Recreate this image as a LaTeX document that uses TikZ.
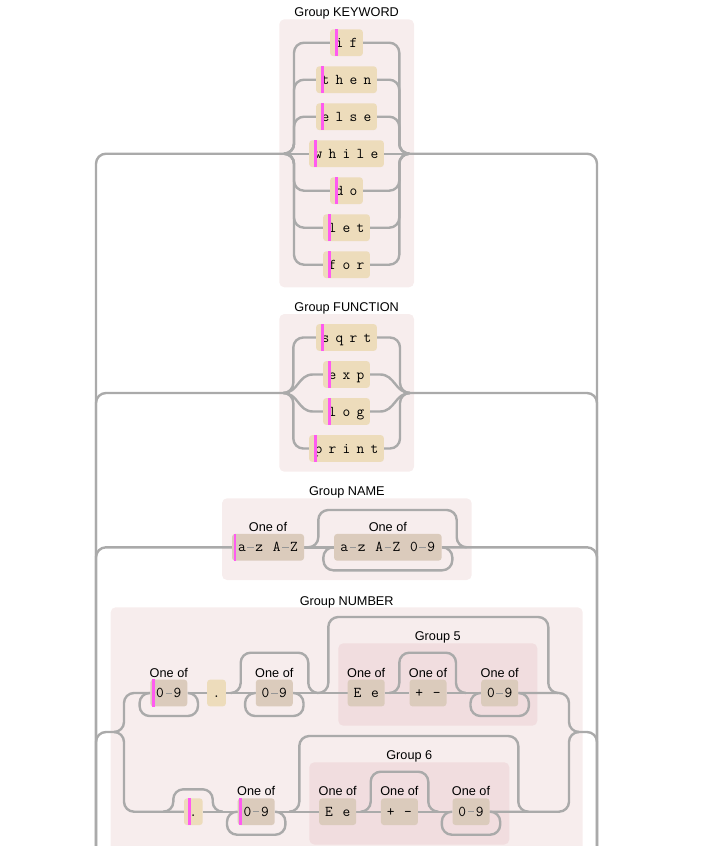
\documentclass[tikz,border=0pt]{standalone}
\usepackage{fontspec}
\setmainfont{Liberation Sans}
\usetikzlibrary{calc}
\definecolor{railc}{RGB}{170,170,170}
\definecolor{grpbg}{RGB}{247,237,237}
\definecolor{grpbgb}{RGB}{241,221,223}
\definecolor{litc}{RGB}{237,220,187}
\definecolor{chsc}{RGB}{219,203,188}
\definecolor{barc}{RGB}{255,90,240}
\definecolor{dashc}{RGB}{150,150,150}
\pgfdeclarelayer{grplayer}
\pgfdeclarelayer{raillayer}
\pgfsetlayers{grplayer,raillayer,main}
\def\kwword#1{\kwwordi#1\relax}
\def\kwwordi#1{\ifx#1\relax\else\makebox[14pt]{#1}\expandafter\kwwordi\fi}
\newcommand\chcell[1]{\makebox[8.7pt]{#1}}
\newcommand\chsp{\hspace*{8.7pt}}
\newcommand\rngdash{\makebox[8.7pt]{\textcolor{dashc}{\rule[3.8pt]{6.5pt}{1.2pt}}}}
\newcommand\zeronine{\chcell{0}\rngdash\chcell{9}}
\newcommand\pbar[3]{\fill[barc] ([xshift=#2]#1.north west) rectangle ([xshift=#3]#1.south west);}
\newcommand\reploop[1]{\draw[rail] (#1.west) -- ++(-10.5,0) |- ([xshift=10.5pt,yshift=-23pt]#1.east) -- ([xshift=10.5pt]#1.east) -- (#1.east);}
\newcommand\skipover[4]{\draw[rail] (#1,#3) -- ({#1+10},#3) -- ({#1+10},#4) -- ({#2-10},#4) -- ({#2-10},#3) -- (#2,#3);}
\begin{document}
\begin{tikzpicture}[x=1pt,y=-1pt,
  rail/.style={draw=railc,line width=2.4pt,rounded corners=10pt},
  itembox/.style={rounded corners=3pt,minimum height=26.7pt,inner sep=0pt,text height=9pt,text depth=0pt,font=\fontsize{15}{17}\selectfont\ttfamily},
  litbox/.style={itembox,fill=litc},
  chbox/.style={itembox,fill=chsc},
  lbl/.style={inner sep=0pt,text height=9.1pt,text depth=0pt,font=\fontsize{12.7}{15}\selectfont},
  grpbox/.style={fill=grpbg,rounded corners=5pt},
  grpboxb/.style={fill=grpbgb,rounded corners=5pt}]
\useasboundingbox (0,0) rectangle (701,846);

% group backgrounds
\begin{pgfonlayer}{grplayer}
\fill[grpbox] (279.3,19.3) rectangle (414,287.3);
\fill[grpbox] (279.3,314) rectangle (414,471.7);
\fill[grpbox] (222,498.3) rectangle (471.7,580);
\fill[grpbox] (110.7,607.3) rectangle (582.7,856);
\fill[grpboxb] (338.3,643.3) rectangle (537.3,725.7);
\fill[grpboxb] (309.3,762.3) rectangle (509.3,844.5);
\end{pgfonlayer}

% group labels
\node[lbl] (lkw) at (346.65,12) {Group KEYWORD};
\node[lbl] (lfn) at (346.65,307) {Group FUNCTION};
\node[lbl] (lnm) at (346.85,491.3) {Group NAME};
\node[lbl] (lnu) at (346.7,600.5) {Group NUMBER};
\node[lbl] (lg5) at (437.8,636) {Group 5};
\node[lbl] (lg6) at (409.3,755) {Group 6};

% junction coordinates
\coordinate (oL) at (96,846);
\coordinate (oR) at (597,846);
\coordinate (kin) at (284,153.7);
\coordinate (kinr) at (294,153.7);
\coordinate (koutr) at (399.3,153.7);
\coordinate (kout) at (409.3,153.7);
\coordinate (fin) at (283.3,393);
\coordinate (finr) at (293.3,393);
\coordinate (foutr) at (400,393);
\coordinate (fout) at (410,393);
\coordinate (nin) at (114,732);
\coordinate (ninr) at (124,732);
\coordinate (noutr) at (569,732);
\coordinate (nout) at (579,732);

% KEYWORD items
\node[litbox,minimum width=32.7pt] (kif) at (346.5,42.7) {\kwword{if}};
\node[litbox,minimum width=60.7pt] (kthen) at (346.5,79.7) {\kwword{then}};
\node[litbox,minimum width=60.7pt] (kelse) at (346.5,116.7) {\kwword{else}};
\node[litbox,minimum width=74.7pt] (kwhile) at (346.5,153.7) {\kwword{while}};
\node[litbox,minimum width=32.7pt] (kdo) at (346.5,190.7) {\kwword{do}};
\node[litbox,minimum width=46.7pt] (klet) at (346.5,227.7) {\kwword{let}};
\node[litbox,minimum width=46.7pt] (kfor) at (346.5,264.7) {\kwword{for}};

% FUNCTION items
\node[litbox,minimum width=60.7pt] (fsqrt) at (346.5,337.5) {\kwword{sqrt}};
\node[litbox,minimum width=46.7pt] (fexp) at (346.5,374.5) {\kwword{exp}};
\node[litbox,minimum width=46.7pt] (flog) at (346.5,411.5) {\kwword{log}};
\node[litbox,minimum width=74.7pt] (fprint) at (346.5,448.5) {\kwword{print}};

% NAME items
\node[chbox,minimum width=72pt] (na) at (268,547.3) {\chcell{a}\rngdash\chcell{z}\chsp\chcell{A}\rngdash\chcell{Z}};
\node[chbox,minimum width=107.5pt] (nb) at (387.85,547.3) {\chcell{a}\rngdash\chcell{z}\chsp\chcell{A}\rngdash\chcell{Z}\chsp\zeronine};

% NUMBER row 1
\node[chbox,minimum width=37pt] (r1a) at (168.8,693) {\zeronine};
\node[litbox,minimum width=18.7pt] (r1dot) at (216.5,693) {\kwword{.}};
\node[chbox,minimum width=37pt] (r1b) at (274.3,693) {\zeronine};
\node[chbox,minimum width=37pt] (g5e) at (366.2,693) {\chcell{E}\chsp\chcell{e}};
\node[chbox,minimum width=37pt] (g5p) at (428,693) {\chcell{+}\chsp\chcell{-}};
\node[chbox,minimum width=37pt] (g5n) at (499.7,693) {\zeronine};

% NUMBER row 2
\node[litbox,minimum width=18.7pt] (r2dot) at (193.35,811.7) {\kwword{.}};
\node[chbox,minimum width=37pt] (r2a) at (256.2,811.7) {\zeronine};
\node[chbox,minimum width=37pt] (g6e) at (337.7,811.7) {\chcell{E}\chsp\chcell{e}};
\node[chbox,minimum width=37pt] (g6p) at (399.4,811.7) {\chcell{+}\chsp\chcell{-}};
\node[chbox,minimum width=37pt] (g6n) at (471,811.7) {\zeronine};

% "One of" labels
\foreach \c in {na,nb,r1a,r1b,g5e,g5p,g5n,r2a,g6e,g6p,g6n}{
  \node[lbl] (one-\c) at ([yshift=20.5pt]\c.center) {One of};
}

% pink markers
\foreach \k in {kif,kthen,kelse,kwhile,kdo,klet,kfor,fsqrt,fexp,flog,fprint}{\pbar{\k}{5pt}{7.7pt}}
\pbar{na}{1.7pt}{4.3pt}
\pbar{r1a}{2pt}{4.6pt}
\pbar{r2dot}{4.3pt}{7pt}
\pbar{r2a}{1.7pt}{4.4pt}

% rails
\begin{pgfonlayer}{raillayer}
% KEYWORD
\draw[rail] (oL) |- (kin);
\draw[rail] (kin) -- (kwhile.west);
\draw[rail] (kwhile.east) -- (kout);
\draw[rail] (kout) -| (oR);
\foreach \k in {kif,kthen,kelse,kdo,klet,kfor}{
  \draw[rail] (kin) -- (kinr) |- (\k.west);
  \draw[rail] (\k.east) -| (koutr) -- (kout);
}
% FUNCTION
\draw[rail] (oL) |- (fin);
\draw[rail] (fout) -| (oR);
\foreach \k in {fsqrt,fprint}{
  \draw[rail] (fin) -- (finr) |- (\k.west);
  \draw[rail] (\k.east) -| (foutr) -- (fout);
}
\foreach \k in {fexp,flog}{
  \draw[rail,sharp corners] (fin) .. controls +(15,0) and +(-15,0) .. ([xshift=-10pt]\k.west) -- (\k.west);
  \draw[rail,sharp corners] (\k.east) -- ([xshift=10pt]\k.east) .. controls +(15,0) and +(-15,0) .. (fout);
}
% NAME
\draw[rail] (oL) |- (na.west);
\draw[rail] (na.east) -- (nb.west);
\draw[rail] (nb.east) -| (oR);
\skipover{308.3}{466.7}{547.3}{510}
\reploop{nb}
% NUMBER
\draw[rail] (oL) |- (nin);
\draw[rail] (nout) -| (oR);
\draw[rail] (nin) -- (ninr) |- (r1a.west);
\draw[rail] (nin) -- (ninr) |- (r2dot.west);
\draw[rail] (r1a.east) -- (r1dot.west);
\draw[rail] (r1dot.east) -- (r1b.west);
\draw[rail] (r1b.east) -- (g5e.west);
\draw[rail] (g5e.east) -- (g5p.west);
\draw[rail] (g5p.east) -- (g5n.west);
\draw[rail] (g5n.east) -| (noutr) -- (nout);
\draw[rail] (r2dot.east) -- (r2a.west);
\draw[rail] (r2a.east) -- (g6e.west);
\draw[rail] (g6e.east) -- (g6p.west);
\draw[rail] (g6p.east) -- (g6n.west);
\draw[rail] (g6n.east) -| (noutr) -- (nout);
\reploop{r1a}
\reploop{r1b}
\reploop{g5n}
\reploop{r2a}
\reploop{g6n}
\skipover{230.7}{318.3}{693}{652.7}
\skipover{318.3}{558.3}{693}{617}
\skipover{389.3}{466}{693}{652.7}
\skipover{163.3}{222.7}{811.7}{789.3}
\skipover{289.3}{528.3}{811.7}{736}
\skipover{360.7}{438.3}{811.7}{771.7}
\end{pgfonlayer}
\end{tikzpicture}
\end{document}
